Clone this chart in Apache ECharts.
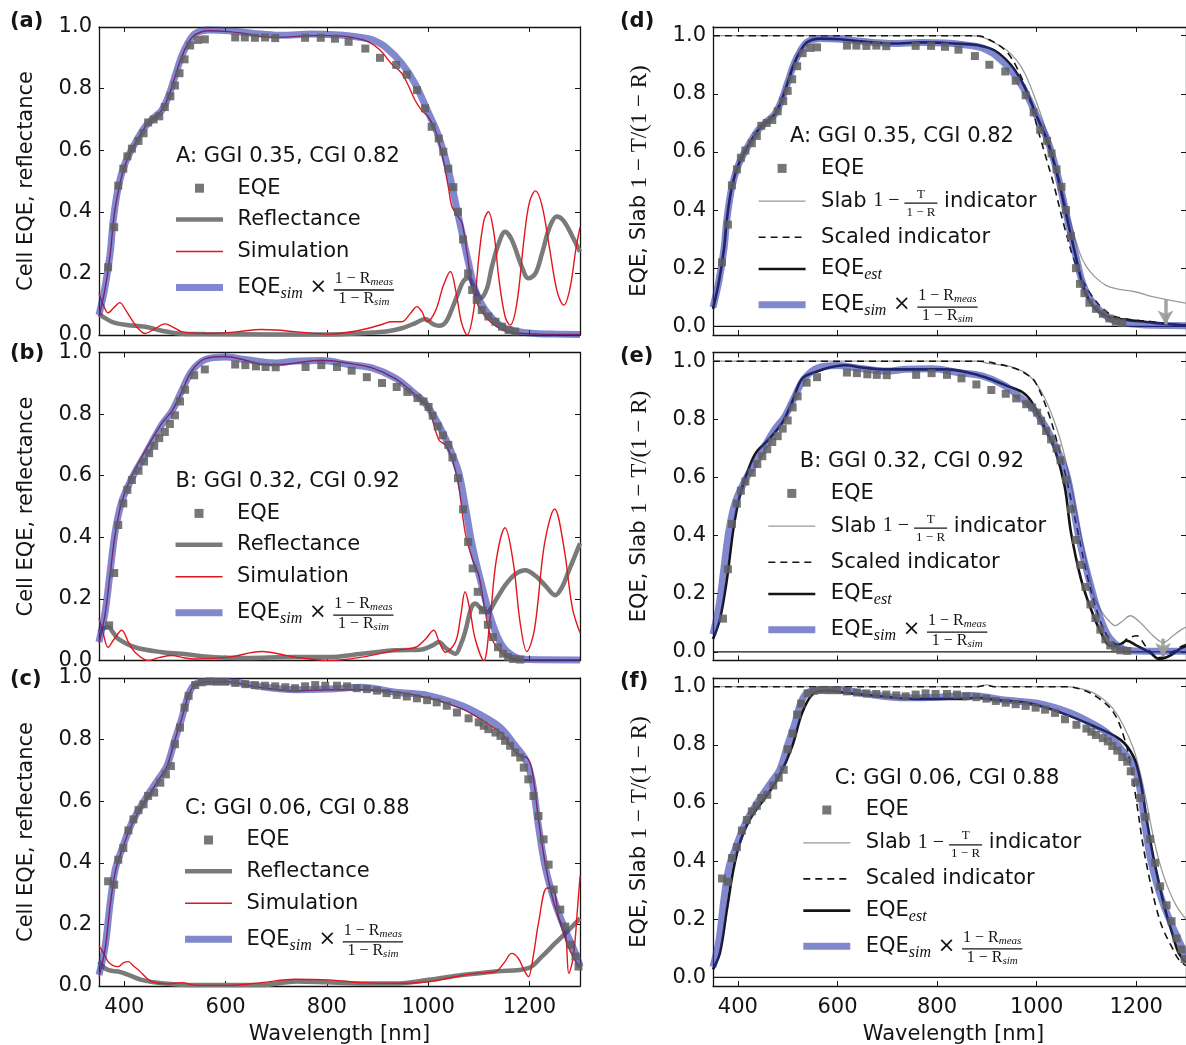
<!DOCTYPE html>
<html><head><meta charset="utf-8">
<script src="https://cdn.jsdelivr.net/npm/echarts@6/dist/echarts.min.js"></script>
<style>html,body{margin:0;padding:0;background:#fff}#c{width:1186px;height:1045px}</style>
</head><body><div id="c"></div>
<script>
// ---------------- DATA ----------------
const xTicks = [400, 600, 800, 1000, 1200];
const yTicks = [0, 0.2, 0.4, 0.6, 0.8, 1.0];
const panelTitles = ['A: GGI 0.35, CGI 0.82', 'B: GGI 0.32, CGI 0.92', 'C: GGI 0.06, CGI 0.88'];

// Sample A
const A_eqe = [[368,0.22],[380,0.35],[388,0.485],[398,0.54],[406,0.58],[415,0.605],[428,0.63],[438,0.655],[447,0.69],[458,0.70],[469,0.71],[480,0.74],[491,0.775],[500,0.81],[509,0.85],[519,0.895],[530,0.94],[545,0.958],[559,0.96],[619,0.966],[638,0.966],[658,0.965],[678,0.966],[698,0.964],[757,0.965],[788,0.965],[816,0.962],[843,0.952],[876,0.93],[905,0.90],[937,0.877],[958,0.845],[978,0.795],[994,0.736],[1007,0.676],[1021,0.638],[1030,0.595],[1040,0.54],[1050,0.48],[1059,0.40],[1069,0.31],[1079,0.20],[1087,0.146],[1096,0.114],[1106,0.081],[1119,0.06],[1133,0.043],[1146,0.027],[1159,0.016],[1172,0.011]];
const A_blue = [[350,0.065],[362,0.157],[372,0.265],[378,0.37],[388,0.48],[401,0.555],[421,0.622],[441,0.676],[457,0.703],[474,0.73],[487,0.774],[500,0.839],[513,0.904],[527,0.952],[540,0.979],[566,0.99],[606,0.988],[640,0.982],[671,0.977],[711,0.973],[770,0.977],[816,0.975],[850,0.97],[882,0.962],[895,0.955],[915,0.936],[948,0.882],[974,0.817],[1001,0.72],[1021,0.644],[1040,0.536],[1060,0.384],[1080,0.233],[1093,0.146],[1113,0.081],[1146,0.027],[1179,0.011],[1212,0.005],[1250,0.003],[1300,0.002]];
const A_sim = [[350,0.06],[362,0.15],[372,0.26],[380,0.39],[390,0.48],[401,0.55],[421,0.62],[441,0.675],[457,0.705],[474,0.73],[487,0.772],[500,0.838],[513,0.902],[527,0.95],[540,0.975],[566,0.988],[606,0.985],[640,0.978],[680,0.968],[711,0.967],[770,0.972],[816,0.972],[850,0.966],[882,0.952],[905,0.925],[928,0.88],[948,0.85],[961,0.81],[974,0.763],[987,0.73],[1000,0.709],[1014,0.666],[1027,0.59],[1040,0.48],[1047,0.417],[1057,0.39],[1067,0.363],[1077,0.265],[1087,0.157],[1100,0.092],[1126,0.038],[1159,0.011],[1220,0.003],[1300,0.002]];
const A_simR = [[350,0.135],[358,0.1],[368,0.072],[380,0.09],[391,0.105],[403,0.08],[415,0.049],[428,0.02],[441,0.005],[460,0.02],[480,0.036],[497,0.025],[513,0.011],[540,0.006],[573,0.005],[620,0.01],[671,0.018],[700,0.016],[737,0.011],[803,0.003],[840,0.008],[882,0.022],[910,0.035],[928,0.043],[948,0.043],[965,0.07],[978,0.092],[988,0.075],[998,0.043],[1015,0.08],[1030,0.16],[1044,0.206],[1055,0.14],[1066,0.04],[1077,0.0],[1090,0.08],[1100,0.25],[1110,0.37],[1119,0.4],[1130,0.33],[1140,0.18],[1152,0.06],[1162,0.032],[1175,0.1],[1190,0.32],[1200,0.43],[1212,0.468],[1225,0.42],[1240,0.28],[1255,0.14],[1268,0.097],[1280,0.15],[1292,0.28],[1300,0.35]];
const A_refl = [[350,0.068],[362,0.055],[375,0.043],[390,0.036],[408,0.032],[441,0.027],[474,0.014],[507,0.005],[560,0.003],[700,0.002],[800,0.002],[882,0.007],[920,0.012],[948,0.022],[974,0.038],[994,0.052],[1010,0.035],[1022,0.03],[1034,0.04],[1046,0.08],[1058,0.13],[1070,0.175],[1080,0.185],[1092,0.15],[1104,0.12],[1116,0.15],[1126,0.222],[1140,0.3],[1152,0.335],[1165,0.31],[1185,0.222],[1198,0.184],[1212,0.2],[1225,0.265],[1240,0.35],[1254,0.385],[1268,0.37],[1285,0.32],[1300,0.27]];
const A_slab = [[350,1.0],[860,1.0],[890,0.995],[910,0.98],[940,0.95],[960,0.915],[977,0.868],[1000,0.77],[1021,0.662],[1043,0.525],[1065,0.376],[1087,0.25],[1100,0.205],[1117,0.17],[1140,0.14],[1161,0.129],[1200,0.118],[1235,0.101],[1285,0.084],[1300,0.08]];
const A_scaled = [[350,1.0],[880,1.0],[909,0.983],[938,0.948],[960,0.891],[982,0.8],[1005,0.662],[1034,0.49],[1056,0.341],[1078,0.215],[1108,0.112],[1145,0.044],[1180,0.025],[1220,0.018],[1260,0.01],[1300,0.005]];
const A_est = [[350,0.06],[362,0.155],[372,0.265],[378,0.37],[388,0.48],[401,0.555],[421,0.622],[441,0.676],[457,0.703],[474,0.73],[487,0.774],[500,0.839],[513,0.904],[527,0.952],[540,0.979],[566,0.99],[606,0.988],[640,0.982],[671,0.977],[711,0.973],[770,0.977],[816,0.975],[850,0.972],[882,0.967],[915,0.95],[948,0.9],[974,0.83],[1001,0.72],[1021,0.64],[1040,0.53],[1060,0.38],[1080,0.23],[1095,0.13],[1113,0.07],[1140,0.035],[1180,0.022],[1220,0.015],[1260,0.008],[1300,0.003]];

// Sample B
const B_eqe = [[370,0.114],[380,0.284],[388,0.44],[398,0.51],[406,0.554],[415,0.586],[428,0.616],[439,0.646],[449,0.673],[459,0.697],[469,0.722],[480,0.742],[490,0.768],[500,0.796],[510,0.841],[520,0.879],[538,0.926],[559,0.945],[619,0.961],[639,0.959],[660,0.955],[679,0.953],[699,0.952],[758,0.953],[789,0.959],[820,0.953],[849,0.941],[879,0.92],[909,0.901],[938,0.888],[959,0.872],[979,0.852],[991,0.841],[1001,0.823],[1009,0.795],[1019,0.76],[1029,0.731],[1040,0.7],[1048,0.659],[1059,0.592],[1069,0.491],[1079,0.385],[1088,0.299],[1098,0.223],[1108,0.163],[1118,0.116],[1128,0.076],[1138,0.043],[1148,0.022],[1158,0.011],[1168,0.005],[1182,0.003]];
const B_blue = [[350,0.06],[362,0.157],[372,0.288],[382,0.418],[395,0.516],[415,0.592],[441,0.668],[474,0.765],[494,0.809],[513,0.874],[533,0.939],[560,0.977],[599,0.985],[639,0.977],[698,0.966],[737,0.972],[790,0.974],[843,0.961],[889,0.95],[935,0.917],[968,0.874],[994,0.836],[1021,0.765],[1040,0.7],[1060,0.613],[1073,0.505],[1087,0.375],[1106,0.244],[1126,0.125],[1146,0.049],[1172,0.011],[1198,0.003],[1300,0.002]];
const B_sim = [[350,0.055],[362,0.15],[372,0.28],[382,0.41],[395,0.515],[415,0.6],[441,0.68],[474,0.77],[494,0.81],[513,0.87],[533,0.94],[560,0.98],[599,0.987],[639,0.975],[680,0.96],[720,0.962],[790,0.975],[843,0.965],[889,0.95],[935,0.915],[968,0.872],[990,0.84],[1001,0.82],[1021,0.717],[1034,0.70],[1047,0.657],[1060,0.57],[1073,0.418],[1087,0.331],[1100,0.277],[1113,0.157],[1126,0.07],[1152,0.016],[1185,0.003],[1300,0.002]];
const B_simR = [[350,0.136],[358,0.09],[368,0.043],[380,0.07],[395,0.098],[408,0.06],[421,0.027],[447,0.0],[470,0.01],[494,0.016],[520,0.008],[540,0.005],[606,0.011],[671,0.029],[737,0.011],[803,0.0],[869,0.011],[935,0.033],[975,0.043],[995,0.07],[1011,0.098],[1022,0.06],[1034,0.027],[1054,0.06],[1064,0.14],[1073,0.223],[1083,0.16],[1093,0.07],[1110,0.0],[1122,0.13],[1135,0.33],[1152,0.431],[1168,0.32],[1182,0.12],[1195,0.029],[1210,0.1],[1230,0.38],[1250,0.492],[1268,0.37],[1285,0.17],[1300,0.09]];
const B_refl = [[350,0.092],[360,0.105],[368,0.109],[378,0.09],[388,0.07],[421,0.043],[474,0.027],[513,0.022],[573,0.011],[639,0.008],[737,0.011],[803,0.011],[869,0.022],[935,0.033],[988,0.036],[1010,0.05],[1021,0.06],[1035,0.04],[1054,0.022],[1064,0.05],[1073,0.092],[1085,0.17],[1093,0.185],[1104,0.17],[1116,0.157],[1135,0.2],[1152,0.244],[1172,0.28],[1192,0.293],[1212,0.275],[1231,0.244],[1251,0.212],[1265,0.24],[1277,0.288],[1290,0.34],[1300,0.38]];
const B_slab = [[350,1.0],[880,1.0],[905,0.992],[951,0.98],[984,0.952],[1010,0.894],[1036,0.791],[1056,0.676],[1076,0.515],[1096,0.343],[1115,0.193],[1130,0.14],[1142,0.113],[1158,0.09],[1172,0.105],[1188,0.124],[1208,0.101],[1234,0.055],[1254,0.032],[1274,0.055],[1287,0.072],[1300,0.085]];
const B_scaled = [[350,1.0],[890,1.0],[918,0.992],[957,0.975],[980,0.955],[997,0.929],[1023,0.825],[1043,0.71],[1063,0.572],[1083,0.411],[1103,0.251],[1122,0.136],[1142,0.055],[1168,0.021],[1181,0.044],[1201,0.055],[1221,0.015],[1247,-0.02],[1274,0.0],[1287,0.015],[1300,0.025]];
const B_est = [[350,0.044],[364,0.113],[378,0.25],[391,0.423],[404,0.538],[424,0.641],[437,0.687],[463,0.733],[490,0.791],[509,0.86],[529,0.94],[556,0.963],[588,0.98],[615,0.986],[654,0.977],[694,0.972],[753,0.972],[819,0.972],[872,0.957],[905,0.94],[938,0.917],[971,0.894],[990,0.86],[1017,0.768],[1036,0.699],[1056,0.572],[1069,0.411],[1089,0.251],[1109,0.147],[1129,0.067],[1148,0.021],[1168,0.026],[1181,0.038],[1201,0.021],[1227,-0.002],[1247,-0.025],[1267,-0.014],[1287,0.009],[1300,0.02]];

// Sample C
const C_eqe = [[368,0.34],[380,0.329],[388,0.41],[398,0.448],[408,0.505],[418,0.541],[428,0.571],[438,0.59],[447,0.617],[459,0.628],[471,0.66],[482,0.687],[492,0.714],[500,0.785],[510,0.839],[519,0.904],[527,0.942],[540,0.977],[553,0.986],[569,0.989],[583,0.988],[599,0.988],[619,0.984],[639,0.98],[658,0.977],[678,0.975],[698,0.973],[718,0.97],[737,0.967],[757,0.973],[777,0.977],[797,0.975],[820,0.975],[840,0.973],[859,0.967],[879,0.964],[899,0.959],[918,0.951],[938,0.945],[958,0.94],[978,0.934],[998,0.928],[1017,0.921],[1037,0.91],[1057,0.888],[1080,0.869],[1100,0.856],[1110,0.845],[1119,0.834],[1133,0.823],[1143,0.812],[1152,0.796],[1162,0.78],[1172,0.758],[1182,0.742],[1189,0.709],[1198,0.671],[1208,0.617],[1218,0.552],[1228,0.476],[1238,0.394],[1248,0.313],[1261,0.248],[1271,0.193],[1281,0.134],[1291,0.096],[1297,0.063]];
const C_blue = [[350,0.036],[362,0.128],[372,0.269],[382,0.378],[395,0.443],[415,0.53],[441,0.606],[467,0.671],[484,0.714],[500,0.8],[513,0.866],[527,0.947],[540,0.98],[566,0.989],[606,0.989],[658,0.975],[737,0.962],[803,0.964],[869,0.97],[935,0.954],[1001,0.943],[1067,0.91],[1119,0.866],[1146,0.834],[1172,0.78],[1192,0.736],[1205,0.671],[1218,0.519],[1231,0.389],[1251,0.269],[1271,0.182],[1291,0.106],[1300,0.063]];
const C_sim = [[350,0.03],[362,0.12],[372,0.26],[382,0.37],[395,0.44],[415,0.525],[441,0.6],[467,0.668],[484,0.712],[500,0.8],[513,0.866],[527,0.945],[540,0.978],[566,0.988],[606,0.987],[658,0.972],[737,0.958],[803,0.962],[869,0.962],[935,0.955],[1001,0.935],[1067,0.9],[1100,0.87],[1119,0.85],[1146,0.818],[1172,0.76],[1185,0.745],[1195,0.742],[1205,0.704],[1218,0.541],[1231,0.4],[1245,0.29],[1258,0.22],[1278,0.123],[1300,0.058]];
const C_simR = [[350,0.13],[358,0.11],[368,0.079],[378,0.066],[388,0.063],[398,0.075],[408,0.079],[418,0.065],[428,0.052],[454,0.014],[487,0.007],[513,0.011],[540,0.003],[606,0.002],[671,0.011],[737,0.022],[803,0.02],[869,0.011],[935,0.009],[1001,0.014],[1054,0.03],[1093,0.041],[1133,0.047],[1150,0.075],[1165,0.106],[1178,0.09],[1190,0.05],[1198,0.03],[1208,0.1],[1218,0.204],[1235,0.318],[1248,0.313],[1258,0.223],[1271,0.172],[1278,0.041],[1287,0.096],[1295,0.25],[1300,0.356]];
const C_refl = [[350,0.079],[360,0.06],[368,0.052],[380,0.048],[388,0.047],[408,0.036],[434,0.02],[474,0.009],[540,0.003],[671,0.003],[740,0.015],[800,0.012],[869,0.008],[935,0.008],[1001,0.02],[1067,0.036],[1133,0.047],[1198,0.058],[1225,0.096],[1251,0.139],[1278,0.182],[1300,0.22]];
const C_slab = [[350,1.0],[880,1.0],[900,1.006],[915,1.0],[1060,1.0],[1096,0.99],[1115,0.978],[1135,0.955],[1155,0.921],[1175,0.864],[1195,0.784],[1208,0.703],[1221,0.6],[1234,0.486],[1247,0.394],[1260,0.325],[1274,0.268],[1285,0.234],[1300,0.2]];
const C_scaled = [[350,1.0],[880,1.0],[900,1.005],[915,1.0],[1060,1.0],[1096,0.987],[1129,0.955],[1155,0.91],[1175,0.829],[1188,0.738],[1201,0.6],[1214,0.451],[1227,0.337],[1241,0.234],[1254,0.165],[1274,0.096],[1285,0.062],[1300,0.04]];
const C_est = [[350,0.027],[364,0.085],[378,0.234],[391,0.371],[404,0.463],[424,0.543],[457,0.623],[483,0.692],[509,0.795],[529,0.91],[549,0.972],[575,0.987],[621,0.978],[687,0.967],[753,0.958],[852,0.958],[880,0.962],[918,0.955],[984,0.944],[1050,0.91],[1115,0.864],[1168,0.818],[1194,0.761],[1208,0.68],[1221,0.543],[1234,0.417],[1247,0.314],[1260,0.222],[1274,0.142],[1285,0.085],[1300,0.05]];

// slab-indicator arrows (wavelength, from, to)
const D_arrow = [1259, 0.092, 0.006];
const E_arrow = [1254, 0.045, -0.018];

// ---------------- STYLE / LAYOUT ----------------
const SANS = 'DejaVu Sans', SERIF = 'Liberation Serif';
const INK = '#141414';
const RED = '#e3161e', GRAYR = '#7a7a7a', BLUE = 'rgba(40,50,170,0.58)', SQ = '#5f5f5f';
const tops = [27, 352.5, 678], H = 308;

const left = [
  {eqe:A_eqe, refl:A_refl, sim:A_sim, simR:A_simR, blue:A_blue},
  {eqe:B_eqe, refl:B_refl, sim:B_sim, simR:B_simR, blue:B_blue},
  {eqe:C_eqe, refl:C_refl, sim:C_sim, simR:C_simR, blue:C_blue}];
const right = [
  {eqe:A_eqe, slab:A_slab, scaled:A_scaled, est:A_est, blue:A_blue, arrow:D_arrow},
  {eqe:B_eqe, slab:B_slab, scaled:B_scaled, est:B_est, blue:B_blue, arrow:E_arrow},
  {eqe:C_eqe, slab:C_slab, scaled:C_scaled, est:C_est, blue:C_blue, arrow:null}];

const grid = [], xAxis = [], yAxis = [], series = [];
function axLine(){ return {show:true, onZero:false, lineStyle:{color:INK, width:1.3}}; }
function axTick(vals){ return {show:true, inside:true, length:5, customValues:vals, lineStyle:{color:INK, width:1}}; }
function addPanel(g, gl, top, ymin, ymax, bottomLabels){
  grid.push({left:gl, width:481, top:top, height:H});
  xAxis.push({type:'value', gridIndex:g, min:350, max:1300, position:'bottom', axisLine:axLine(), axisTick:axTick(xTicks),
    axisLabel:{show:bottomLabels, customValues:xTicks, fontSize:21, fontFamily:SANS, color:INK, margin:11, formatter:v=>String(v)}, splitLine:{show:false}});
  xAxis.push({type:'value', gridIndex:g, min:350, max:1300, position:'top', axisLine:axLine(), axisTick:axTick(xTicks),
    axisLabel:{show:false}, splitLine:{show:false}});
  yAxis.push({type:'value', gridIndex:g, min:ymin, max:ymax, position:'left', axisLine:axLine(), axisTick:axTick(yTicks),
    axisLabel:{show:true, customValues:yTicks, fontSize:21, fontFamily:SANS, color:INK, margin:7, formatter:v=>v.toFixed(1)}, splitLine:{show:false}});
  yAxis.push({type:'value', gridIndex:g, min:ymin, max:ymax, position:'right', axisLine:axLine(), axisTick:axTick(yTicks),
    axisLabel:{show:false}, splitLine:{show:false}});
}
function ln(g, data, color, width, extra){
  return Object.assign({type:'line', xAxisIndex:2*g, yAxisIndex:2*g, data:data, symbol:'none', showSymbol:false, smooth:0.35,
    silent:true, lineStyle:{color:color, width:width}, z:2}, extra||{});
}
function sq(g, data){
  return {type:'scatter', xAxisIndex:2*g, yAxisIndex:2*g, data:data, symbol:'rect', symbolSize:8, silent:true,
    itemStyle:{color:SQ, opacity:0.85}, z:2};
}

left.forEach((p,i)=>{
  addPanel(i, 99, tops[i], 0, 1, i===2);
  series.push(sq(i, p.eqe));
  series.push(ln(i, p.refl, GRAYR, 4.5));
  series.push(ln(i, p.simR, RED, 1.4));
  series.push(ln(i, p.sim, RED, 1.4));
  series.push(ln(i, p.blue, BLUE, 7));
});
right.forEach((p,i)=>{
  const g = 3+i;
  addPanel(g, 713, tops[i], -0.03, 1.03, i===2);
  const zero = ln(g, [[350,0],[1300,0]], INK, 1.2, {smooth:false});
  if (p.arrow) {
    zero.markLine = {silent:true, symbol:['none','arrow'], symbolSize:[12,14], label:{show:false},
      lineStyle:{color:'#9a9a9a', width:3.5, type:'solid', opacity:0.9},
      data:[[{coord:[p.arrow[0], p.arrow[1]]},{coord:[p.arrow[0], p.arrow[2]]}]]};
  }
  series.push(zero);
  series.push(sq(g, p.eqe));
  series.push(ln(g, p.slab, '#9a9a9a', 1.3));
  series.push(ln(g, p.scaled, INK, 1.6, {lineStyle:{color:INK, width:1.6, type:[7,5]}}));
  series.push(ln(g, p.est, INK, 2.6));
  series.push(ln(g, p.blue, BLUE, 7));
});

// ---------------- TEXT / LEGENDS ----------------
const cv = document.createElement('canvas').getContext('2d');
function F(size, family, style, weight){ return {size:size, family:family, style:style||'normal', weight:weight||'normal'}; }
function fstr(f){ return f.style+' '+f.weight+' '+f.size+'px "'+f.family+'"'; }
function tw(t,f){ cv.font = fstr(f); return cv.measureText(t).width; }
function T(x,y,t,f,align,extra){ return Object.assign({type:'text', x:x, y:y, silent:true, z:100,
  style:{text:t, font:fstr(f), fill:INK, align:align||'left', verticalAlign:'middle'}}, extra||{}); }
function hl(x1,x2,y,style){ return {type:'line', silent:true, z:100, shape:{x1:x1,y1:y,x2:x2,y2:y}, style:style}; }

const FS = F(21, SANS);
const FM = F(16, SERIF), FSUB = F(11, SERIF, 'italic'), FSUBL = F(16, SERIF, 'italic');
function seq(x, y, parts, els){
  for (const p of parts){
    if (p.frac){
      const nw = p.num.reduce((s,q)=>s+tw(q.t,q.f),0), dw = p.den.reduce((s,q)=>s+tw(q.t,q.f),0);
      const w = Math.max(nw,dw) + 2*p.pad;
      els.push(hl(x, x+w, y+p.bar, {stroke:INK, lineWidth:1.3}));
      seq(x+(w-nw)/2, y+p.ndy, p.num, els);
      seq(x+(w-dw)/2, y+p.ddy, p.den, els);
      x += w;
    } else {
      els.push(T(x, y+(p.dy||0), p.t, p.f));
      x += tw(p.t, p.f);
    }
  }
  return x;
}
function eqeSimParts(){
  return [{t:'EQE', f:FS},{t:'sim', f:FSUBL, dy:6},{t:' × ', f:FS},
    {frac:true, pad:1, bar:2.5, ndy:-8.5, ddy:11.5,
     num:[{t:'1 − R', f:FM},{t:'meas', f:FSUB, dy:3}],
     den:[{t:'1 − R', f:FM},{t:'sim', f:FSUB, dy:3}]}];
}
const els = [];
// left legends
[[176,156.5],[175.5,481.7],[185,808.3]].forEach((pos,i)=>{
  const L = pos[0], Ty = pos[1], tx = L + 61.5;
  els.push(T(L, Ty, panelTitles[i], FS));
  els.push({type:'rect', silent:true, z:100, shape:{x:L+19, y:Ty+31.7-4.5, width:9, height:9}, style:{fill:SQ, opacity:0.85}});
  els.push(T(tx, Ty+31.7, 'EQE', FS));
  els.push(hl(L, L+47, Ty+63, {stroke:GRAYR, lineWidth:4.5}));
  els.push(T(tx, Ty+63, 'Reflectance', FS));
  els.push(hl(L, L+47, Ty+95, {stroke:RED, lineWidth:1.4}));
  els.push(T(tx, Ty+95, 'Simulation', FS));
  els.push(hl(L, L+47, Ty+131, {stroke:BLUE, lineWidth:7}));
  seq(tx, Ty+131, eqeSimParts(), els);
});
// right legends
[[758.6,136.7],[768.3,461.7],[803.3,778.3]].forEach((pos,i)=>{
  const L = pos[0], Ty = pos[1], tx = L + 62.5;
  els.push(T(L+31.5, Ty, panelTitles[i], FS));
  els.push({type:'rect', silent:true, z:100, shape:{x:L+19, y:Ty+31.7-4.5, width:9, height:9}, style:{fill:SQ, opacity:0.85}});
  els.push(T(tx, Ty+31.7, 'EQE', FS));
  els.push(hl(L, L+47, Ty+64.5, {stroke:'#9a9a9a', lineWidth:1.3}));
  seq(tx, Ty+64.5, [{t:'Slab ', f:FS},{t:'1 − ', f:F(20,SERIF)},
    {frac:true, pad:2, bar:2, ndy:-7, ddy:11, num:[{t:'T', f:F(13,SERIF)}], den:[{t:'1 − R', f:F(13,SERIF)}]},
    {t:' indicator', f:FS}], els);
  els.push(hl(L, L+47, Ty+100.6, {stroke:INK, lineWidth:1.6, lineDash:[7,5]}));
  els.push(T(tx, Ty+100.6, 'Scaled indicator', FS));
  els.push(hl(L, L+47, Ty+132.3, {stroke:INK, lineWidth:2.6}));
  seq(tx, Ty+132.3, [{t:'EQE', f:FS},{t:'est', f:FSUBL, dy:6}], els);
  els.push(hl(L, L+47, Ty+168, {stroke:BLUE, lineWidth:7}));
  seq(tx, Ty+168, eqeSimParts(), els);
});
// panel letters
const FB = F(21, SANS, 'normal', 'bold');
[['(a)',10,22],['(b)',10,354],['(c)',10,680],['(d)',620,22],['(e)',620,357],['(f)',620,682]].forEach(a=>els.push(T(a[1],a[2],a[0],FB)));
// axis titles
const mids = tops.map(t=>t+H/2);
mids.forEach(m=>{
  els.push(T(27, m, 'Cell EQE, reflectance', FS, 'center', {rotation:Math.PI/2}));
  els.push({type:'text', x:640, y:m, rotation:Math.PI/2, silent:true, z:100,
    style:{text:'{s|EQE, Slab }{m|1 − T/(1 − R)}', align:'center', verticalAlign:'middle', fill:INK,
      rich:{s:{fontFamily:SANS, fontSize:21, fill:INK}, m:{fontFamily:SERIF, fontSize:23, fill:INK}}}});
});
els.push(T(99+240.5, 1035, 'Wavelength [nm]', FS, 'center'));
els.push(T(713+240.5, 1035, 'Wavelength [nm]', FS, 'center'));

const chart = echarts.init(document.getElementById('c'), null, {renderer:'canvas'});
chart.setOption({animation:false, backgroundColor:'#fff', grid:grid, xAxis:xAxis, yAxis:yAxis, series:series,
  graphic:{elements:els}});
</script></body></html>
